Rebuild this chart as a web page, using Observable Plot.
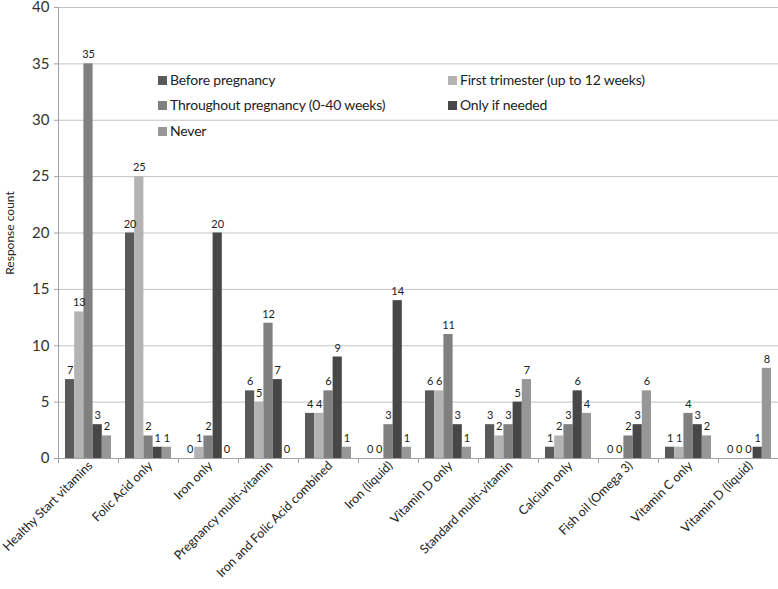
<!DOCTYPE html>
<html><head><meta charset="utf-8">
<script src="https://cdn.jsdelivr.net/npm/d3@7"></script>
<script src="https://cdn.jsdelivr.net/npm/@observablehq/plot@0.6"></script>
<style>
body{margin:0;background:#fff;}
#wrap{position:relative;width:778px;height:589px;font-family:Lato,"Open Sans",sans-serif;}
#legend .item{position:absolute;display:flex;align-items:center;font-size:14px;letter-spacing:-0.2px;color:#222;white-space:nowrap;line-height:1;}
#legend .sw{width:9px;height:9px;margin-right:3px;display:inline-block;}
</style>
</head><body>
<div id="wrap"><div id="chart"></div><div id="legend"></div></div>
<script>
const categories = ["Healthy Start vitamins","Folic Acid only","Iron only","Pregnancy multi-vitamin","Iron and Folic Acid combined","Iron (liquid)","Vitamin D only","Standard multi-vitamin","Calcium only","Fish oil (Omega 3)","Vitamin C only","Vitamin D (liquid)"];
const series = ["Before pregnancy","First trimester (up to 12 weeks)","Throughout pregnancy (0-40 weeks)","Only if needed","Never"];
const beforePregnancy = [7,20,0,6,4,0,6,3,1,0,1,0];
const firstTrimester  = [13,25,1,5,4,0,6,2,2,0,1,0];
const throughout      = [35,2,2,12,6,3,11,3,3,2,4,0];
const onlyIfNeeded    = [3,1,20,7,9,14,3,5,6,3,3,1];
const never           = [2,1,0,0,1,1,1,7,4,6,2,8];
const yTicks = [0,5,10,15,20,25,30,35,40];
const colors = ["#5a5a5a","#b3b3b3","#808080","#474747","#979797"];

const valuesBySeries = [beforePregnancy, firstTrimester, throughout, onlyIfNeeded, never];
const data = [];
categories.forEach((c, i) => series.forEach((s, j) => data.push({category: c, series: s, value: valuesBySeries[j][i]})));

const W = 778, H = 589, mL = 58, mR = 0, mT = 7, mB = 131;
const pO = 0.76;
const facetW = (W - mL - mR) / categories.length;
const step = facetW / (series.length + 2 * pO);
const edge = step * (0.5 + pO);
const axisColor = "#a0a0a0";

const chart = Plot.plot({
  width: W, height: H, marginLeft: mL, marginRight: mR, marginTop: mT, marginBottom: mB,
  style: {fontFamily: "Lato, 'Open Sans', sans-serif", background: "#fff"},
  fx: {domain: categories, padding: 0, round: false, axis: null, label: null},
  x: {domain: series, paddingInner: 0, paddingOuter: pO, round: false, axis: null},
  y: {domain: [0, 40], axis: null},
  color: {domain: series, range: colors},
  marks: [
    Plot.gridY(yTicks, {stroke: "#c4c4c4", strokeOpacity: 1}),
    Plot.ruleY([0], {stroke: axisColor}),
    Plot.barY(data, {fx: "category", x: "series", y: "value", fill: "series"}),
    Plot.text(data, {fx: "category", x: "series", y: "value", text: d => String(d.value), dy: -9, fontSize: 11, fill: "#222"}),
    Plot.ruleX([series[0]], {x: d => d, dx: -edge, y1: 0, y2: 0, insetBottom: -5, stroke: axisColor}),
    Plot.ruleX([series[0]], {x: d => d, dx: -edge, y1: 0, y2: 40, facetAnchor: "left", stroke: axisColor}),
    Plot.ruleX([series[series.length - 1]], {x: d => d, dx: edge, y1: 0, y2: 0, insetBottom: -5, facetAnchor: "right", stroke: axisColor}),
    Plot.axisY(yTicks, {tickSize: 4, tickPadding: 5, fontSize: 15, stroke: axisColor, fill: "#333", label: null}),
    Plot.axisY([], {tickSize: 0, fontSize: 12, fill: "#222", label: "Response count", labelAnchor: "center", labelArrow: "none", labelOffset: 53}),
    Plot.axisFx({anchor: "bottom", tickRotate: -45, tickSize: 0, tickPadding: 5, fontSize: 12.5, fill: "#222", label: null, dx: 2})
  ]
});
document.getElementById("chart").appendChild(chart);

const legendPos = [[158, 80], [448, 80], [158, 105], [448, 105], [158, 131]];
const legend = document.getElementById("legend");
series.forEach((s, i) => {
  const it = document.createElement("div");
  it.className = "item";
  it.style.left = legendPos[i][0] + "px";
  it.style.top = (legendPos[i][1] - 8) + "px";
  it.style.height = "16px";
  it.innerHTML = `<span class="sw" style="background:${colors[i]}"></span><span>${s}</span>`;
  legend.appendChild(it);
});
</script>
</body></html>
